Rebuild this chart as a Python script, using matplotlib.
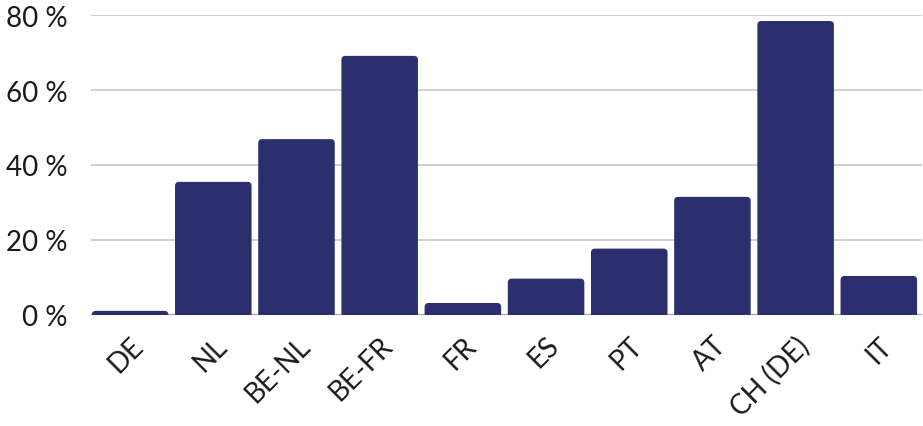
import matplotlib
matplotlib.use("Agg")
import matplotlib.pyplot as plt
from matplotlib.patches import FancyBboxPatch
import matplotlib.transforms as mtransforms

countries = ["DE", "NL", "BE-NL", "BE-FR", "FR", "ES", "PT", "AT", "CH (DE)", "IT"]
shares = [1.1, 35.5, 46.9, 69.1, 3.2, 9.7, 17.7, 31.5, 78.4, 10.4]

bar_color = "#2c2f6e"

plt.rcParams["font.family"] = ["Lato", "DejaVu Sans"]

fig = plt.figure(figsize=(9.23, 4.27), dpi=100)
ax = fig.add_axes([0.0986, 0.26, 0.9004, 0.7025])

xs = list(range(len(countries)))
bars = ax.bar(xs, shares, width=0.92, color=bar_color, zorder=3)

ax.set_xlim(-0.47, 9.52)
ax.set_ylim(0, 80)

# swap the plain bars for ones with rounded top corners
fig.canvas.draw()
px_x = ax.transData.transform((1, 0))[0] - ax.transData.transform((0, 0))[0]
px_y = ax.transData.transform((0, 1))[1] - ax.transData.transform((0, 0))[1]
radius_px = 4
for b in bars:
    b.set_visible(False)
    x0, w, h = b.get_x(), b.get_width(), b.get_height()
    r = radius_px / px_x
    extra = 2 * radius_px / px_y
    patch = FancyBboxPatch((x0, -extra), w, h + extra,
                           boxstyle=f"round,pad=0,rounding_size={r}",
                           mutation_aspect=px_x / px_y,
                           facecolor=bar_color, edgecolor="none",
                           zorder=3, clip_on=True)
    ax.add_patch(patch)

ax.set_yticks([0, 20, 40, 60, 80])
ax.set_yticklabels([f"{v} %" for v in [0, 20, 40, 60, 80]])
ax.yaxis.grid(True, color="#c8c8c8", linewidth=1.2, zorder=0)
ax.axhline(0, color="#a0a0a0", linewidth=1.5, zorder=2)

ax.set_xticks(xs)
ax.set_xticklabels(countries, rotation=45, ha="right", rotation_mode="anchor")
shift = mtransforms.ScaledTranslation(14 / 100, -5 / 100, fig.dpi_scale_trans)
for lbl in ax.get_xticklabels():
    lbl.set_transform(lbl.get_transform() + shift)

ax.tick_params(axis="both", length=0, labelsize=20, colors="#1a1a1a")
ax.tick_params(axis="y", pad=17)
ax.tick_params(axis="x", pad=12)

for s in ax.spines.values():
    s.set_visible(False)

fig.savefig("out.png", dpi=100)
